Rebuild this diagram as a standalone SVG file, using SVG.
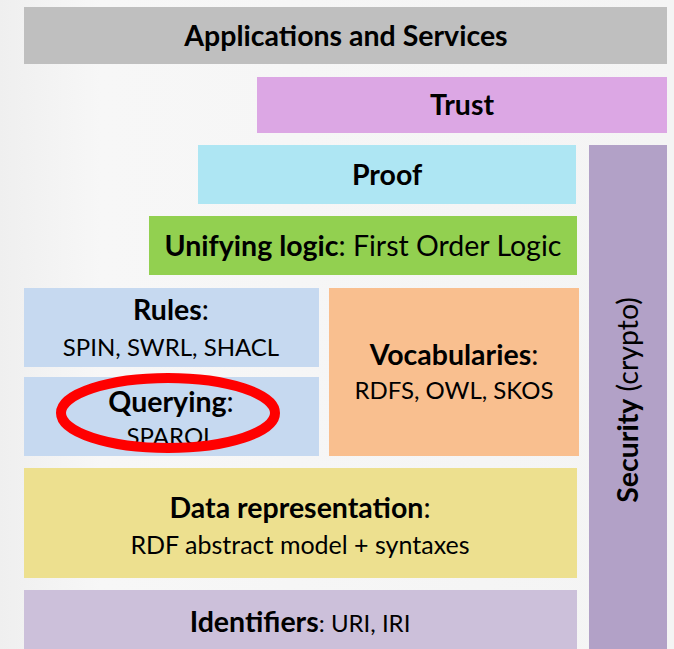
<svg xmlns="http://www.w3.org/2000/svg" width="674" height="649" viewBox="0 0 674 649">
<defs>
<linearGradient id="bg" x1="0" y1="0" x2="1" y2="0">
<stop offset="0" stop-color="#efefef"/>
<stop offset="0.15" stop-color="#f7f7f7"/>
<stop offset="1" stop-color="#f4f4f4"/>
</linearGradient>
<style>
text{font-family:Lato,"Liberation Sans",sans-serif;fill:#000;text-anchor:middle}
.b{font-weight:bold}
.t{font-size:28.5px}
.s{font-size:24px}
.s2{font-size:25px}
</style>
</defs>
<rect x="0" y="0" width="674" height="649" fill="url(#bg)"/>
<g id="applications">
<rect x="24" y="7" width="643" height="57" fill="#bfbfbf"/>
<text x="346" y="46" class="t b">Applications and Services</text>
</g>
<g id="trust">
<rect x="257" y="77" width="410" height="56" fill="#dca7e4"/>
<text x="462" y="115" class="t b">Trust</text>
</g>
<g id="proof">
<rect x="198" y="145" width="378" height="59" fill="#aee6f3"/>
<text x="387" y="185" class="t b">Proof</text>
</g>
<g id="security">
<rect x="589" y="145" width="78" height="504" fill="#b2a1c7"/>
<text transform="translate(638,400) rotate(-90)" x="0" y="0" class="t"><tspan class="b">Security</tspan> (crypto)</text>
</g>
<g id="unifying">
<rect x="149" y="216" width="428" height="59" fill="#92d050"/>
<text x="363" y="256" class="t"><tspan class="b">Unifying logic</tspan>: First Order Logic</text>
</g>
<g id="rules">
<rect x="24" y="288" width="295" height="79" fill="#c6d9f0"/>
<text x="171" y="320" class="t"><tspan class="b">Rules</tspan>:</text>
<text x="171" y="356" class="s">SPIN, SWRL, SHACL</text>
</g>
<g id="querying">
<rect x="24" y="377" width="295" height="79" fill="#c6d9f0"/>
<text x="171" y="412" class="t"><tspan class="b">Querying</tspan>:</text>
<text x="171" y="445" class="s">SPARQL</text>
</g>
<g id="vocabularies">
<rect x="329" y="288" width="250" height="168" fill="#f9bf8f"/>
<text x="454" y="365" class="t"><tspan class="b">Vocabularies</tspan>:</text>
<text x="454" y="399" class="s">RDFS, OWL, SKOS</text>
</g>
<g id="data">
<rect x="24" y="468" width="553" height="110" fill="#ede08f"/>
<text x="300" y="518" class="t"><tspan class="b">Data representation</tspan>:</text>
<text x="300" y="554" class="s2">RDF abstract model + syntaxes</text>
</g>
<g id="identifiers">
<rect x="24" y="590" width="553" height="59" fill="#ccc0da"/>
<text x="300" y="632" class="t"><tspan class="b">Identifiers</tspan><tspan class="s">: URI, IRI</tspan></text>
</g>
<g id="highlight">
<ellipse cx="168" cy="413" rx="107" ry="35" fill="none" stroke="#ff0000" stroke-width="10"/>
</g>
</svg>
